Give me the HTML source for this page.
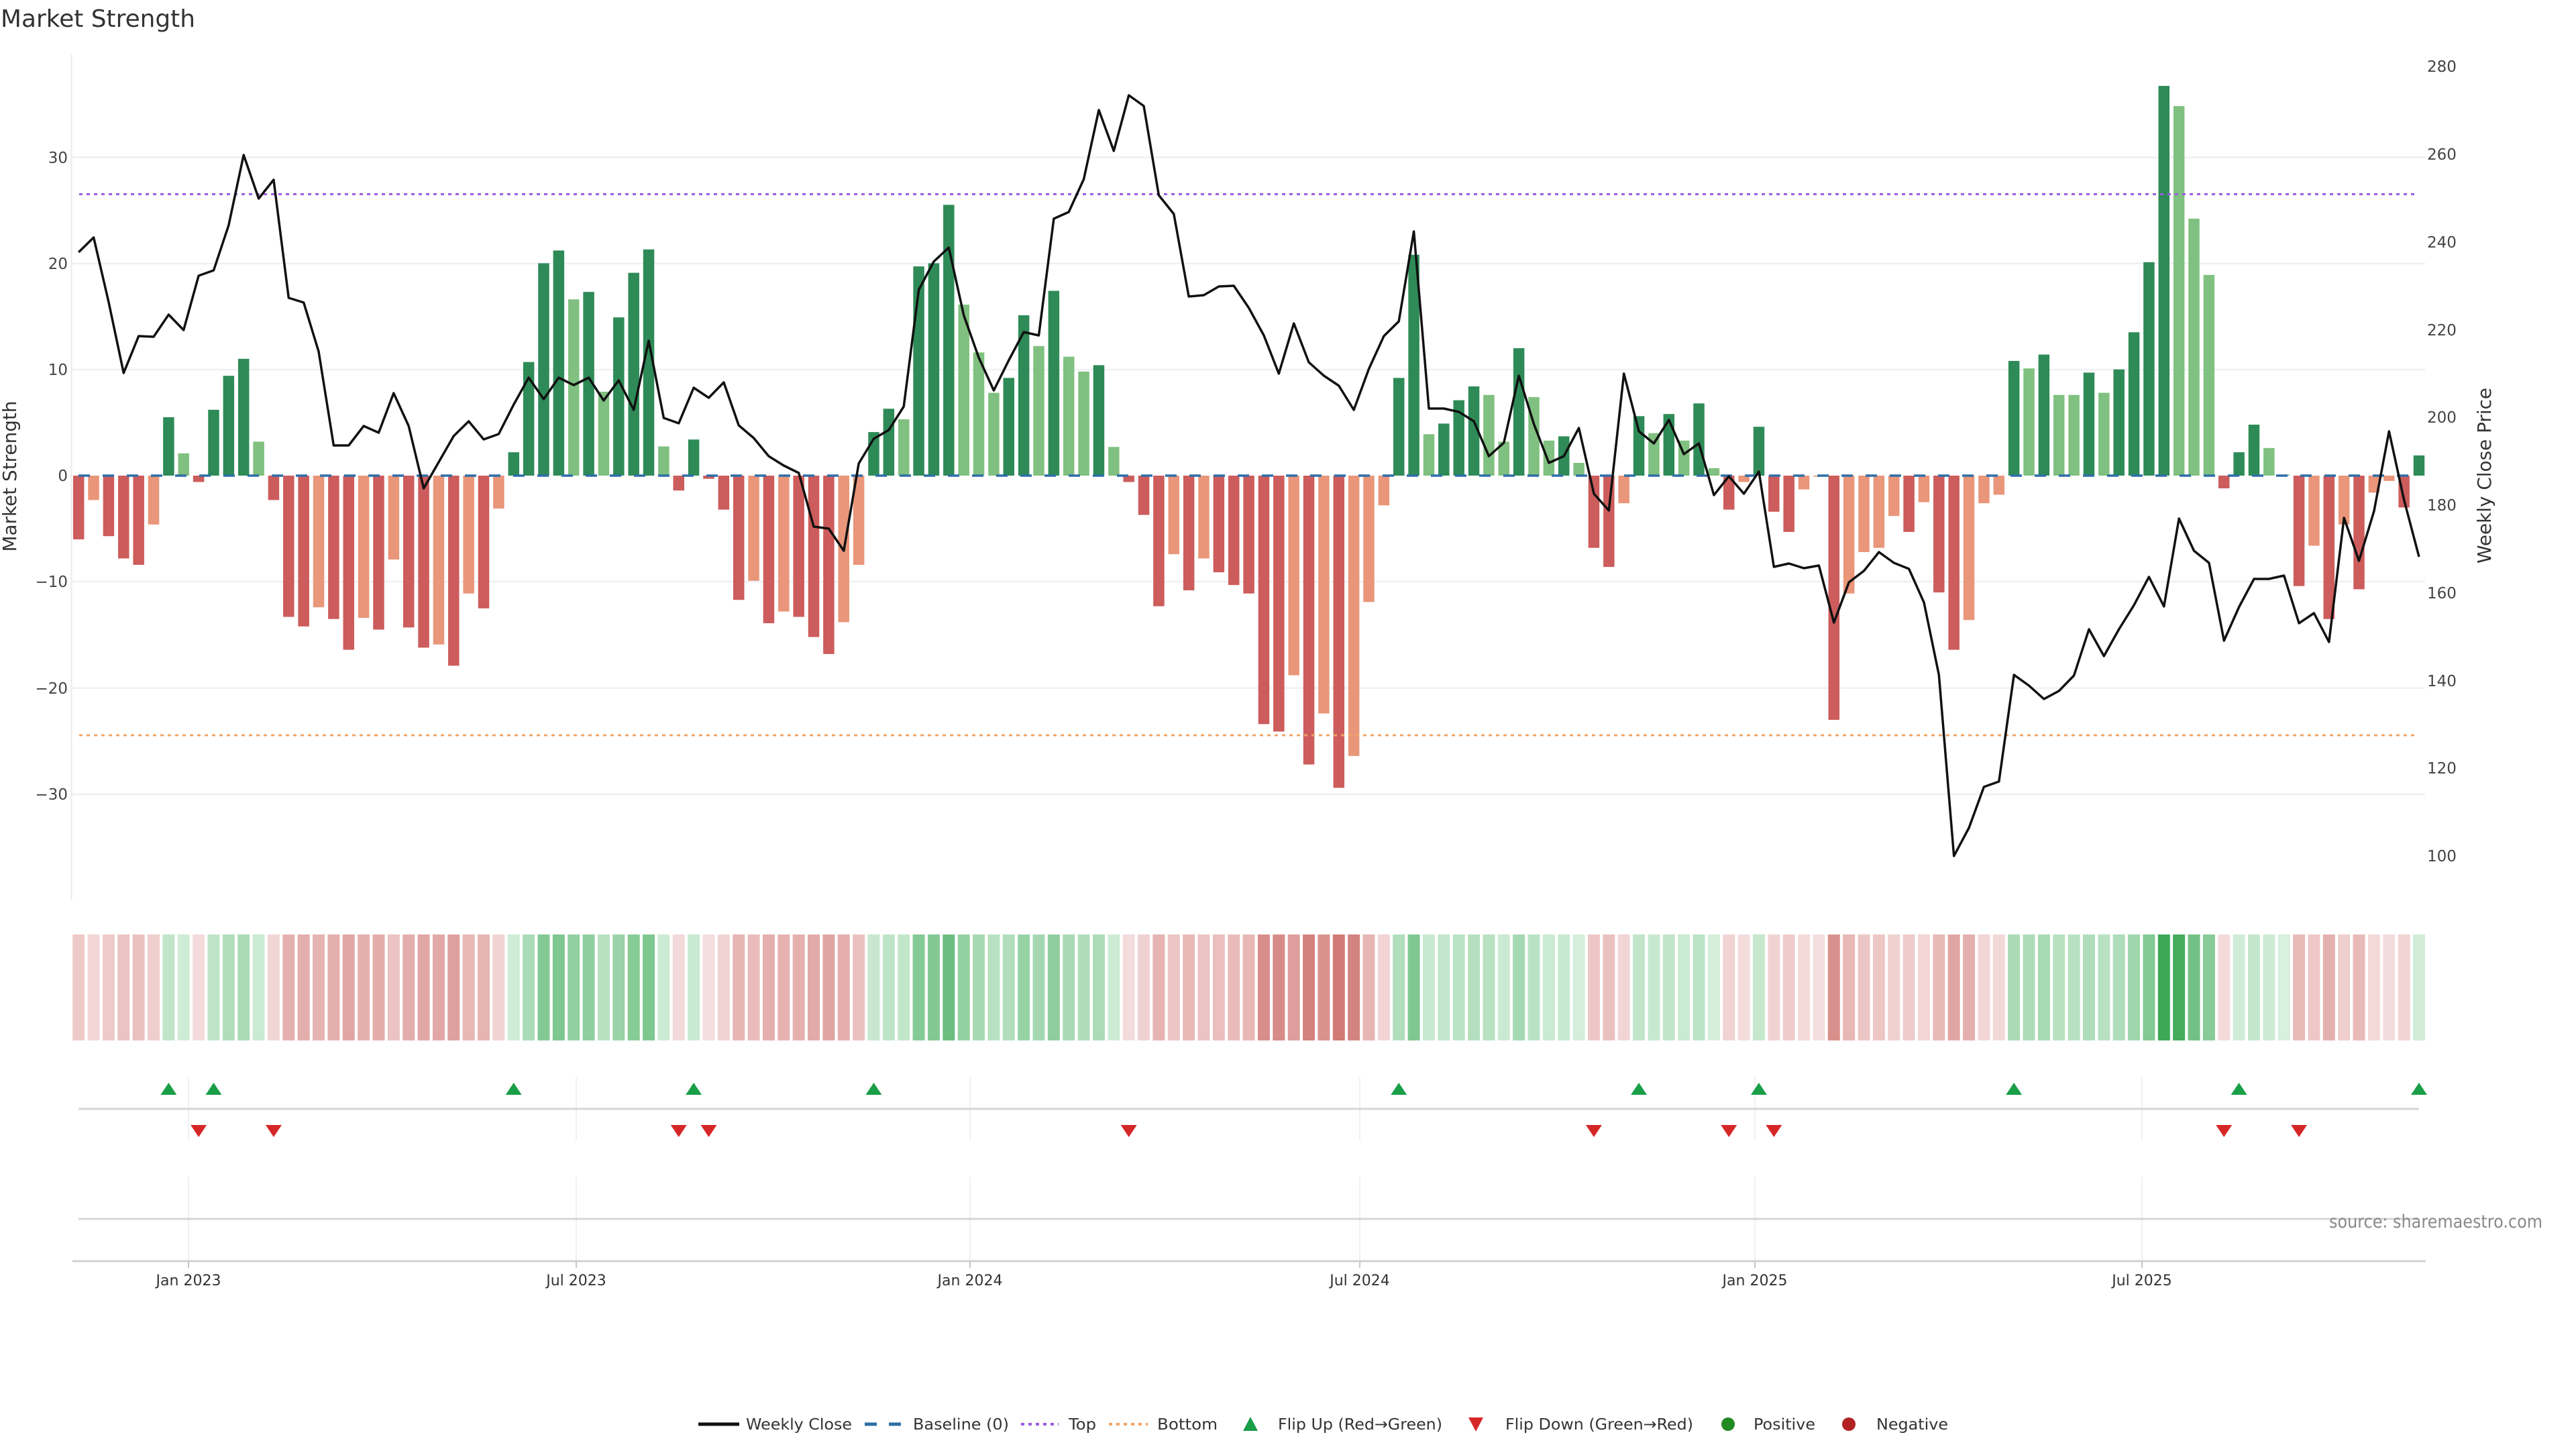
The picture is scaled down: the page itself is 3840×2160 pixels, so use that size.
<!DOCTYPE html>
<html>
<head>
<meta charset="utf-8">
<style>
  html,body{margin:0;padding:0;background:#ffffff;}
  svg{display:block;}
  text{font-family:"DejaVu Sans","Liberation Sans",sans-serif;}
</style>
</head>
<body>
<svg id="chart" xmlns="http://www.w3.org/2000/svg" width="3840" height="2160" viewBox="0 0 3840 2160">
  <rect x="0" y="0" width="3840" height="2160" fill="#ffffff"/>

  <!-- title -->
  <text x="1" y="40" font-size="36" fill="#333333" textLength="290" lengthAdjust="spacingAndGlyphs">Market Strength</text>

  <!-- gridlines main -->
  <g stroke="#eef0f4" stroke-width="2.5">
    <line x1="106" x2="3615" y1="234.5" y2="234.5"/>
    <line x1="106" x2="3615" y1="392.8" y2="392.8"/>
    <line x1="106" x2="3615" y1="551" y2="551"/>
    <line x1="106" x2="3615" y1="867" y2="867"/>
    <line x1="106" x2="3615" y1="1025.6" y2="1025.6"/>
    <line x1="106" x2="3615" y1="1184" y2="1184"/>
  </g>
  <line x1="106.5" x2="106.5" y1="80" y2="1342" stroke="#ebebeb" stroke-width="2"/>

  <g id="bars"></g>
  <g id="refs"></g>
  <g id="price"></g>

  <!-- left tick labels -->
  <g font-size="23" fill="#444444" text-anchor="end">
    <text x="101" y="243">30</text>
    <text x="101" y="401">20</text>
    <text x="101" y="559">10</text>
    <text x="101" y="717">0</text>
    <text x="101" y="875">−10</text>
    <text x="101" y="1034">−20</text>
    <text x="101" y="1192">−30</text>
  </g>
  <!-- right tick labels -->
  <g font-size="23" fill="#444444" text-anchor="start">
    <text x="3618" y="107">280</text>
    <text x="3618" y="238">260</text>
    <text x="3618" y="369">240</text>
    <text x="3618" y="500">220</text>
    <text x="3618" y="630">200</text>
    <text x="3618" y="761">180</text>
    <text x="3618" y="892">160</text>
    <text x="3618" y="1023">140</text>
    <text x="3618" y="1153">120</text>
    <text x="3618" y="1284">100</text>
  </g>
  <!-- axis titles -->
  <text transform="translate(24,710) rotate(-90)" font-size="27.6" fill="#333333" text-anchor="middle" textLength="225" lengthAdjust="spacingAndGlyphs">Market Strength</text>
  <text transform="translate(3713,709) rotate(-90)" font-size="27.6" fill="#333333" text-anchor="middle" textLength="262" lengthAdjust="spacingAndGlyphs">Weekly Close Price</text>

  <!-- heatmap -->
  <g id="heat"></g>

  <!-- flip panel -->
  <g stroke="#eef0f4" stroke-width="2">
    <line x1="281" x2="281" y1="1606" y2="1700"/>
    <line x1="859" x2="859" y1="1606" y2="1700"/>
    <line x1="1446" x2="1446" y1="1606" y2="1700"/>
    <line x1="2027" x2="2027" y1="1606" y2="1700"/>
    <line x1="2616" x2="2616" y1="1606" y2="1700"/>
    <line x1="3193" x2="3193" y1="1606" y2="1700"/>
    <line x1="281" x2="281" y1="1754" y2="1880"/>
    <line x1="859" x2="859" y1="1754" y2="1880"/>
    <line x1="1446" x2="1446" y1="1754" y2="1880"/>
    <line x1="2027" x2="2027" y1="1754" y2="1880"/>
    <line x1="2616" x2="2616" y1="1754" y2="1880"/>
    <line x1="3193" x2="3193" y1="1754" y2="1880"/>
  </g>
  <line x1="117" x2="3606" y1="1653" y2="1653" stroke="#d6d6d6" stroke-width="3"/>
  <line x1="117" x2="3606" y1="1817" y2="1817" stroke="#d6d6d6" stroke-width="3"/>
  <g id="flips"></g>

  <!-- x axis -->
  <line x1="108" x2="3616" y1="1880" y2="1880" stroke="#d0d0d0" stroke-width="3"/>
  <g stroke="#c8c8c8" stroke-width="2">
    <line x1="281" x2="281" y1="1880" y2="1890"/>
    <line x1="859" x2="859" y1="1880" y2="1890"/>
    <line x1="1446" x2="1446" y1="1880" y2="1890"/>
    <line x1="2027" x2="2027" y1="1880" y2="1890"/>
    <line x1="2616" x2="2616" y1="1880" y2="1890"/>
    <line x1="3193" x2="3193" y1="1880" y2="1890"/>
  </g>
  <g font-size="22" fill="#333333" text-anchor="middle">
    <text x="281" y="1916">Jan 2023</text>
    <text x="859" y="1916">Jul 2023</text>
    <text x="1446" y="1916">Jan 2024</text>
    <text x="2027" y="1916">Jul 2024</text>
    <text x="2616" y="1916">Jan 2025</text>
    <text x="3193" y="1916">Jul 2025</text>
  </g>

  <!-- source -->
  <text x="3790" y="1830" font-size="27" fill="#8a8a8a" text-anchor="end" textLength="318" lengthAdjust="spacingAndGlyphs">source: sharemaestro.com</text>

  <!-- legend -->
  <line x1="1041" x2="1102" y1="2123" y2="2123" stroke="#111111" stroke-width="5"/>
  <line x1="1289" x2="1343" y1="2123" y2="2123" stroke="#2f6fa8" stroke-width="5" stroke-dasharray="18 18"/>
  <line x1="1522" x2="1578" y1="2123" y2="2123" stroke="#9b5de0" stroke-width="4" stroke-dasharray="5 6"/>
  <line x1="1653" x2="1711" y1="2123" y2="2123" stroke="#f0a468" stroke-width="4" stroke-dasharray="5 6"/>
  <polygon points="1853,2133 1875,2133 1864,2112" fill="#1a9e48"/>
  <polygon points="2189,2113 2211,2113 2200,2134" fill="#d62728"/>
  <circle cx="2576" cy="2123" r="10" fill="#228b22"/>
  <circle cx="2756" cy="2123" r="10" fill="#b22222"/>
  <g font-size="23.5" fill="#333333">
    <text x="1112" y="2131" textLength="158" lengthAdjust="spacingAndGlyphs">Weekly Close</text>
    <text x="1361" y="2131" textLength="143" lengthAdjust="spacingAndGlyphs">Baseline (0)</text>
    <text x="1593" y="2131" textLength="41" lengthAdjust="spacingAndGlyphs">Top</text>
    <text x="1725" y="2131" textLength="90" lengthAdjust="spacingAndGlyphs">Bottom</text>
    <text x="1905" y="2131" textLength="245" lengthAdjust="spacingAndGlyphs">Flip Up (Red→Green)</text>
    <text x="2244" y="2131" textLength="280" lengthAdjust="spacingAndGlyphs">Flip Down (Green→Red)</text>
    <text x="2614" y="2131" textLength="92" lengthAdjust="spacingAndGlyphs">Positive</text>
    <text x="2797" y="2131" textLength="107" lengthAdjust="spacingAndGlyphs">Negative</text>
  </g>
</svg>

<script>
(function(){
  var NS="http://www.w3.org/2000/svg";
  var V=[-6.0,-2.3,-5.7,-7.8,-8.4,-4.6,5.5,2.1,-0.6,6.2,9.4,11.0,3.2,-2.3,-13.3,-14.2,-12.4,-13.5,-16.4,-13.4,
  -14.5,-7.9,-14.3,-16.2,-15.9,-17.9,-11.1,-12.5,-3.1,2.2,10.7,20.0,21.2,16.6,17.3,7.9,14.9,19.1,21.3,2.75,
  -1.4,3.4,-0.3,-3.2,-11.7,-9.9,-13.9,-12.8,-13.3,-15.2,-16.8,-13.8,-8.4,4.1,6.3,5.3,19.7,20.0,25.5,16.1,
  11.6,7.8,9.2,15.1,12.2,17.4,11.2,9.8,10.4,2.7,-0.6,-3.7,-12.3,-7.4,-10.8,-7.8,-9.1,-10.3,-11.1,-23.4,
  -24.1,-18.8,-27.2,-22.4,-29.4,-26.4,-11.9,-2.8,9.2,20.8,3.9,4.9,7.1,8.4,7.6,3.2,12.0,7.4,3.3,3.7,
  1.2,-6.8,-8.6,-2.6,5.6,4.0,5.8,3.3,6.8,0.7,-3.2,-0.6,4.6,-3.4,-5.3,-1.3,-0.1,-23.0,-11.1,-7.2,
  -6.8,-3.8,-5.3,-2.5,-11.0,-16.4,-13.6,-2.6,-1.8,10.8,10.1,11.4,7.6,7.6,9.7,7.8,10.0,13.5,20.1,36.7,
  34.8,24.2,18.9,-1.2,2.2,4.8,2.6,0.1,-10.4,-6.6,-13.5,-4.6,-10.7,-1.6,-0.5,-3.0,1.9];
  var P=[376,354,450,556,501,502,469,492,411,403,336,231,296,268,444,451,524,664,664,635,
  645,586,635,728,689,650,628,655,647,603,563,595,563,574,563,597,567,611,508,623,
  631,578,593,570,634,653,680,694,705,785,788,821,691,654,641,606,432,390,369,470,
  533,582,537,495,500,326,316,267,164,225,142,158,291,319,442,440,427,426,459,500,
  557,482,540,560,575,611,550,501,479,345,609,609,614,628,680,660,560,632,690,680,
  638,736,761,557,643,661,626,677,661,738,710,736,703,845,840,847,843,928,868,851,
  823,839,848,898,1006,1276,1234,1173,1165,1006,1022,1042,1030,1007,938,978,938,902,860,904,
  773,821,839,955,905,863,863,858,929,914,957,772,836,762,643,745,830];
  var X0=117.2, DX=22.364, Y0=709, K=15.83;
  function X(i){return X0+DX*i;}
  function el(tag,attrs,parent){var e=document.createElementNS(NS,tag);for(var k in attrs)e.setAttribute(k,attrs[k]);parent.appendChild(e);return e;}
  var bars=document.getElementById("bars");
  var heat=document.getElementById("heat");
  var flips=document.getElementById("flips");
  var prev=0;
  function lerp(a,b,t){return Math.round(a+(b-a)*t);}
  for(var i=0;i<V.length;i++){
    var v=V[i], x=X(i), col;
    if(v>0){col=(v>prev)?"#2e8b57":"#80c080";}
    else{col=(v<prev)?"#cd5c5c":"#e9967a";}
    var h=Math.abs(v)*K;
    if(h>0.6){
      el("rect",{x:(x-8.25).toFixed(2),y:(v>0?Y0-h:Y0).toFixed(2),width:16.5,height:h.toFixed(2),fill:col},bars);
    }
    // heat cell
    var c;
    if(v>0){var t=Math.min(v/37,1);c="rgb("+lerp(216,60,t)+","+lerp(240,168,t)+","+lerp(222,85,t)+")";}
    else{var t2=Math.min(-v/30,1);c="rgb("+lerp(245,208,t2)+","+lerp(222,120,t2)+","+lerp(222,115,t2)+")";}
    el("rect",{x:(x-9).toFixed(2),y:1393,width:18,height:158,fill:c},heat);
    // flips
    if(i>0){
      if(v>0 && prev<=0){
        el("polygon",{points:(x-12)+",1632 "+(x+12)+",1632 "+x+",1614",fill:"#1a9e48"},flips);
      } else if(v<0 && prev>0){
        el("polygon",{points:(x-12)+",1677 "+(x+12)+",1677 "+x+",1695",fill:"#d62728"},flips);
      }
    }
    prev=v;
  }
  var refs=document.getElementById("refs");
  el("line",{x1:117,x2:3606,y1:709,y2:709,stroke:"#2f6fa8","stroke-width":3.5,"stroke-dasharray":"17 19"},refs);
  el("line",{x1:118,x2:3603,y1:289.5,y2:289.5,stroke:"#9b5de0","stroke-width":3,"stroke-dasharray":"5 6"},refs);
  el("line",{x1:118,x2:3603,y1:1096,y2:1096,stroke:"#f0a468","stroke-width":3,"stroke-dasharray":"5 6"},refs);
  var pts=[];
  for(var j=0;j<P.length;j++){pts.push(X(j).toFixed(1)+","+P[j]);}
  el("polyline",{points:pts.join(" "),fill:"none",stroke:"#111111","stroke-width":3.5,"stroke-linejoin":"round"},document.getElementById("price"));
})();
</script>
</body>
</html>
